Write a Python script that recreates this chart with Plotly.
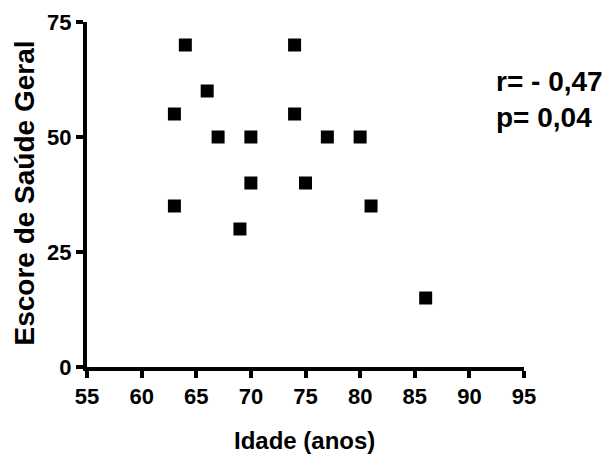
import plotly.graph_objects as go

idade = [63, 63, 64, 66, 67, 69, 70, 70, 74, 74, 75, 77, 80, 81, 86]
escore = [55, 35, 70, 60, 50, 30, 50, 40, 70, 55, 40, 50, 50, 35, 15]
x_ticks = [55, 60, 65, 70, 75, 80, 85, 90, 95]
y_ticks = [0, 25, 50, 75]
stats_text = ["r= - 0,47", "p= 0,04"]
x_title = "Idade (anos)"
y_title = "Escore de Saúde Geral"

FONT = "Liberation Sans, Arial, sans-serif"

fig = go.Figure()
fig.add_trace(go.Scatter(
    x=idade, y=escore, mode="markers",
    marker=dict(symbol="square", size=13, color="black"),
    showlegend=False, cliponaxis=False,
))

axis_common = dict(
    ticks="outside", ticklen=7, tickwidth=4, tickcolor="black",
    showline=True, linewidth=4, linecolor="black",
    showgrid=False, zeroline=False, automargin=False,
    tickfont=dict(family=FONT, size=22, weight="bold", color="black"),
)

fig.update_layout(
    width=603, height=454,
    margin=dict(l=87, r=79, t=22, b=87),
    plot_bgcolor="white", paper_bgcolor="white",
    font=dict(family=FONT, color="black", size=17, weight="bold"),
    xaxis=dict(range=[55, 95], tickvals=x_ticks, **axis_common),
    yaxis=dict(range=[0, 75], tickvals=y_ticks, **axis_common),
    annotations=[
        dict(text="<br>".join(stats_text), xref="paper", yref="paper",
             x=0.932, y=0.774, xanchor="left", yanchor="middle", align="left",
             showarrow=False, font=dict(family=FONT, size=28, weight="bold")),
        dict(text=x_title, xref="paper", yref="paper",
             x=0.497, y=-0.214, xanchor="center", yanchor="middle",
             showarrow=False, font=dict(family=FONT, size=24, weight="bold")),
        dict(text=y_title, xref="paper", yref="paper", textangle=-90,
             x=-0.144, y=0.503, xanchor="center", yanchor="middle",
             showarrow=False, font=dict(family=FONT, size=28, weight="bold")),
    ],
)

fig.write_html(
    "out.html",
    config={"displayModeBar": False},
    post_script="document.body.style.margin='0';document.body.style.overflow='hidden';",
)
